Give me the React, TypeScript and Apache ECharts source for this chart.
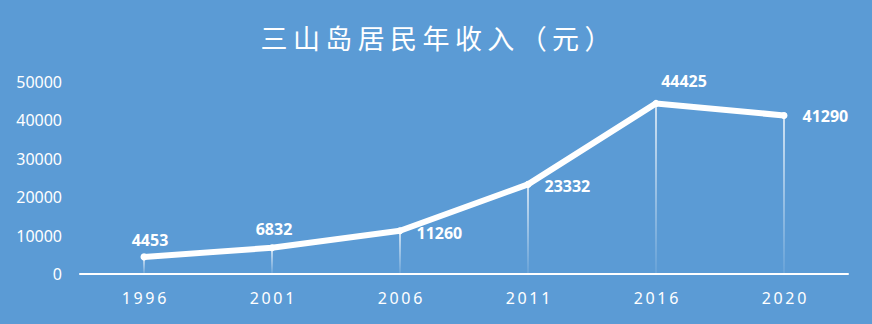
import React, { useEffect, useRef } from "react";
import * as echarts from "echarts";

const titleText = "三山岛居民年收入（元）";
const years = ["1996", "2001", "2006", "2011", "2016", "2020"];
const income = [4453, 6832, 11260, 23332, 44425, 41290];
const yTicks = [0, 10000, 20000, 30000, 40000, 50000];

const labelPlacement: any[] = [
  { position: "top", offset: [6, 0] },
  { position: "top", offset: [2, -2] },
  { position: "right", offset: [8, 2] },
  { position: "right", offset: [8, 2] },
  { position: "top", offset: [28, -6] },
  { position: "right", offset: [10, 1] },
];

export default function App() {
  const ref = useRef<HTMLDivElement>(null);
  useEffect(() => {
    const chart = echarts.init(ref.current!, null, { renderer: "svg" });
    const spaced = titleText.split("").join("\u2009");
    chart.setOption({
      animation: false,
      backgroundColor: "#5B9BD5",
      title: {
        text: spaced,
        left: "center",
        top: 19,
        textStyle: {
          color: "#ffffff",
          fontSize: 27,
          fontWeight: "normal",
          fontFamily: "Noto Sans CJK SC",
        },
      },
      grid: { left: 80, right: 24, top: 82, bottom: 50 },
      xAxis: {
        type: "category",
        data: years,
        boundaryGap: true,
        axisLine: { lineStyle: { color: "#ffffff", width: 2 } },
        axisTick: { show: false },
        axisLabel: {
          color: "#ffffff",
          fontSize: 16,
          fontFamily: "Noto Sans",
          margin: 16,
          formatter: (v: string) => v.split("").join("\u2009"),
        },
      },
      yAxis: {
        type: "value",
        min: yTicks[0],
        max: yTicks[yTicks.length - 1],
        interval: 10000,
        axisLine: { show: false },
        axisTick: { show: false },
        splitLine: { show: false },
        axisLabel: {
          color: "#ffffff",
          fontSize: 16,
          fontFamily: "Noto Sans",
          margin: 18,
          formatter: (v: number) => String(v),
        },
      },
      series: [
        {
          type: "bar",
          data: income,
          barWidth: 1.5,
          silent: true,
          itemStyle: {
            color: new echarts.graphic.LinearGradient(0, 0, 0, 1, [
              { offset: 0, color: "rgba(255,255,255,0.95)" },
              { offset: 1, color: "rgba(255,255,255,0.1)" },
            ]),
          },
          z: 1,
        },
        {
          type: "line",
          data: income.map((v, i) => ({
            value: v,
            label: labelPlacement[i],
          })),
          symbol: "circle",
          symbolSize: 7,
          showSymbol: true,
          itemStyle: { color: "#ffffff" },
          lineStyle: { color: "#ffffff", width: 6, cap: "round", join: "round" },
          label: {
            show: true,
            color: "#ffffff",
            fontSize: 16,
            fontWeight: "bold",
            fontFamily: "Noto Sans",
          },
          z: 3,
        },
      ],
    });
    return () => chart.dispose();
  }, []);
  return (
    <div
      ref={ref}
      style={{ position: "fixed", left: 0, top: 0, width: 872, height: 324 }}
    />
  );
}
